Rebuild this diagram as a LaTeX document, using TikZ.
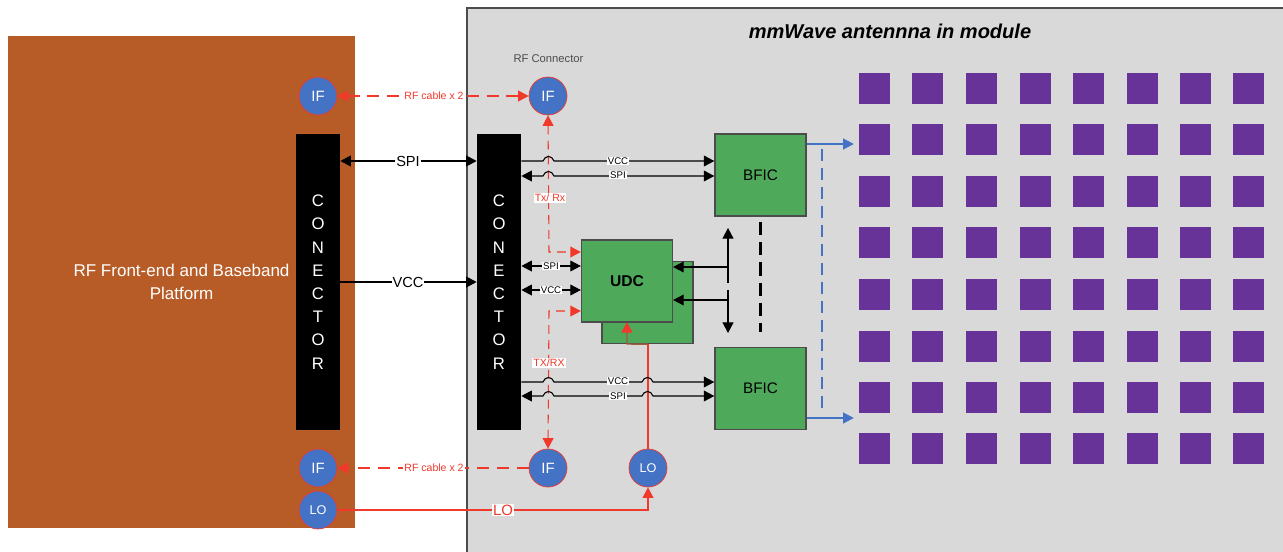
\documentclass[tikz,border=0pt]{standalone}
\usepackage{fontspec}
\setmainfont{Liberation Sans}
\usetikzlibrary{arrows.meta}

\definecolor{platform}{HTML}{B85C27}
\definecolor{modgrey}{HTML}{D9D9D9}
\definecolor{chipgreen}{HTML}{4FA95B}
\definecolor{portblue}{HTML}{4472C4}
\definecolor{elemviolet}{HTML}{673399}
\definecolor{rfred}{HTML}{F0392B}

\tikzset{
    conn/.style={fill=black,text=white,minimum width=0.88cm,minimum height=5.92cm,inner sep=0pt,align=center,font=\fontsize{9.5}{13.2}\selectfont},
    chip/.style={draw=black!70,thick,fill=chipgreen,minimum width=1.82cm,minimum height=1.64cm,inner sep=0pt,font=\fontsize{8.7}{10}\selectfont},
    port/.style={circle,draw=rfred,fill=portblue,text=white,minimum size=0.76cm,inner sep=0pt,font=\fontsize{8.5}{9}\selectfont},
    elem/.style={fill=elemviolet,minimum size=0.62cm,inner sep=0pt},
    tag/.style={fill=white,inner sep=0.6pt,font=\fontsize{5.5}{6}\selectfont},
    redtag/.style={tag,text=rfred,font=\fontsize{6}{6}\selectfont},
    bigtag/.style={fill=white,inner sep=0.6pt,font=\fontsize{8.3}{10}\selectfont},
    rfdash/.style={rfred,semithick,dash pattern=on 6.8pt off 4.5pt},
    txdash/.style={rfred,semithick,dash pattern=on 5pt off 3.5pt},
}

\begin{document}
\begin{tikzpicture}[x=0.02cm,y=-0.02cm,>={Triangle[length=6pt,width=6.2pt]}]
        \useasboundingbox (0,0) rectangle (1283,551);

        % platform and module
        \node[fill=platform,minimum width=6.94cm,minimum height=9.84cm,inner sep=0pt,text=white,align=center,font=\fontsize{9.7}{13.2}\selectfont] (platform) at (181.5,282) {RF Front-end and Baseband\\Platform};
        \fill[modgrey] (467,8) rectangle (1290,560);
        \draw[black!70,thick] (467,560)--(467,8)--(1290,8);
        \node[font=\bfseries\itshape\fontsize{11.4}{12}\selectfont] (title) at (890,31) {mmWave antennna in module};
        \node[font=\fontsize{6.4}{7}\selectfont,text=black!70] (rfconn) at (548.5,59) {RF Connector};

        % connectors
        \node[conn] (conL) at (318,282) {C\\O\\N\\E\\C\\T\\O\\R};
        \node[conn] (conR) at (499,282) {C\\O\\N\\E\\C\\T\\O\\R};

        % ports
        \node[port] (ifLt) at (318,96) {IF};
        \node[port] (ifRt) at (548,96) {IF};
        \node[port] (ifLb) at (318,468) {IF};
        \node[port] (ifRb) at (548,468) {IF};
        \node[port,font=\fontsize{7.2}{9}\selectfont] (loL) at (318,510) {LO};
        \node[port,font=\fontsize{7.2}{9}\selectfont] (loR) at (648,468) {LO};

        % chips
        \node[chip] (bficT) at (760.5,175) {BFIC};
        \node[chip] (bficB) at (760.5,388.5) {BFIC};
        \node[chip] (udcB) at (647.5,302.5) {};
        \node[chip,font=\bfseries\fontsize{8.9}{10}\selectfont] (udc) at (627,281) {UDC};

        % antenna elements
        \foreach \x [count=\i] in {874.5,927.5,981.5,1035.5,1088.5,1142.5,1195.5,1248.5}
            \foreach \y [count=\j] in {88.5,139.5,191.5,242.5,294.5,346.5,397.5,448.5}
                \node[elem] (el\i\j) at (\x,\y) {};

        % levels of the lines
        \coordinate (spiA) at (0,161);
        \coordinate (vccA) at (0,282);
        \coordinate (vccT) at (0,161);
        \coordinate (spiT) at (0,176);
        \coordinate (spiU) at (0,266);
        \coordinate (vccU) at (0,290);
        \coordinate (vccB) at (0,382);
        \coordinate (spiB) at (0,396);

        % platform to module
        \draw[<->,semithick] (conL.east |- spiA)--(conR.west |- spiA);
        \draw[->,semithick] (conL.east |- vccA)--(conR.west |- vccA);
        \node[bigtag] (spilab) at (408,161) {SPI};
        \node[bigtag] (vcclab) at (408,282) {VCC};

        % red cables, drawn first so the supply lines hop over them
        \coordinate (txT) at (549,252);
        \coordinate (txB) at (549,311);
        \draw[<->,rfdash] (ifLt.east)--(ifRt.west);
        \draw[->,rfdash] (ifRb.west)--(ifLb.east);
        \node[redtag] (rfTlab) at (434,96) {RF cable x 2};
        \node[redtag] (rfBlab) at (434,468) {RF cable x 2};
        \draw[<->,txdash] (ifRt.south)--(txT)--(udc.west |- txT);
        \draw[<->,txdash] (ifRb.north)--(txB)--(udc.west |- txB);
        \node[redtag] (txTlab) at (550,198) {Tx/ Rx};
        \node[redtag] (txBlab) at (549,363) {TX/RX};

        % LO feed
        \draw[->,rfred,semithick] (loL.east)--(loR.south |- loL)--(loR.south);
        \draw[rfred,thick] (loR.north)--(loR.north |- udcB.south);
        \draw[-{Triangle[length=6pt,width=6.2pt,color=rfred]},rfred!60!chipgreen!90!black,thick] (loR.north |- udcB.south)--(627,344)--(627,322);
        \node[redtag,font=\fontsize{8.5}{10}\selectfont] (lolab) at (503,510) {LO};

        % supply and control lines
        \draw[->,semithick] (conR.east |- vccT)--(543,161) .. controls (545,155) and (552,155) .. (554,161)--(bficT.west |- vccT);
        \draw[<->,semithick] (conR.east |- spiT)--(543,176) .. controls (545,170) and (552,170) .. (554,176)--(bficT.west |- spiT);
        \draw[<->,semithick] (conR.east |- spiU)--(udc.west |- spiU);
        \draw[<->,semithick] (conR.east |- vccU)--(udc.west |- vccU);
        \draw[->,semithick] (conR.east |- vccB)--(543,382) .. controls (545,376) and (552,376) .. (554,382)--(642,382) .. controls (644,376) and (651,376) .. (653,382)--(bficB.west |- vccB);
        \draw[<->,semithick] (conR.east |- spiB)--(543,396) .. controls (545,390) and (552,390) .. (554,396)--(642,396) .. controls (644,390) and (651,390) .. (653,396)--(bficB.west |- spiB);
        \node[tag] (vccTlab) at (618,161) {VCC};
        \node[tag] (spiTlab) at (618,175) {SPI};
        \node[tag] (spiUlab) at (551,266) {SPI};
        \node[tag] (vccUlab) at (551,290) {VCC};
        \node[tag] (vccBlab) at (618,381) {VCC};
        \node[tag] (spiBlab) at (618,396) {SPI};

        % UDC to the BFICs
        \coordinate (busT) at (728,228);
        \coordinate (busB) at (728,333);
        \coordinate (busU) at (728,267);
        \coordinate (busV) at (728,300);
        \draw[<->,semithick] (busT)--(busU)--(udc.east |- busU);
        \draw[<->,semithick] (busB)--(busV)--(udc.east |- busV);
        \draw[semithick,dash pattern=on 9pt off 4pt] (busU)--(busV);
        \draw[very thick,dash pattern=on 7.5pt off 4pt] (bficT.south |- 0,222)--(bficB.north |- 0,332);

        % beams
        \draw[->,portblue,semithick,shorten >=2.8pt] (bficT.east |- 0,144)--(el11.west |- 0,144);
        \draw[->,portblue,semithick,shorten >=2.8pt] (bficB.east |- 0,418)--(el11.west |- 0,418);
        \draw[portblue,thick,dash pattern=on 6.8pt off 4pt] (822,149)--(822,412);
    \end{tikzpicture}
\end{document}
